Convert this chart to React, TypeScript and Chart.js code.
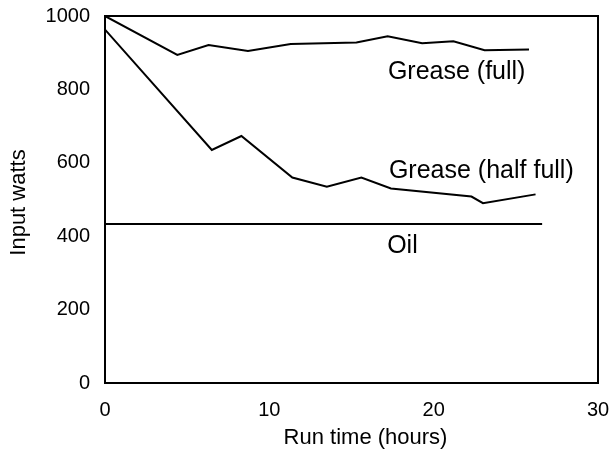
import React, { useEffect, useRef } from "react";
import { Chart, registerables } from "chart.js";

Chart.register(...registerables);

const fullHours = [0, 4.4, 6.3, 8.7, 11.3, 15.3, 17.2, 19.3, 21.2, 23.1, 25.8];
const fullWatts = [1000, 894, 921, 905, 924, 928, 945, 926, 931, 907, 909];
const halfHours = [0, 6.5, 8.3, 11.4, 13.5, 15.6, 17.4, 22.3, 23.0, 26.2];
const halfWatts = [963, 635, 673, 560, 535, 560, 530, 508, 490, 514];
const oilHours = [0, 26.6];
const oilWatts = [433, 433];

const seriesNames = ["Grease (full)", "Grease (half full)", "Oil"];
const labelHours = [21.4, 22.9, 18.1];
const labelWatts = [847, 578, 372];

const xTitle = "Run time (hours)";
const yTitle = "Input watts";

const FONT = "'Liberation Sans', Arial, Helvetica, sans-serif";

const toPoints = (xs: number[], ys: number[]) => xs.map((x, i) => ({ x, y: ys[i] }));

const boxPlugin = {
  id: "box",
  afterDatasetsDraw(chart: any) {
    const { ctx, chartArea } = chart;
    ctx.save();
    ctx.strokeStyle = "#000";
    ctx.lineWidth = 2;
    ctx.strokeRect(chartArea.left, chartArea.top, chartArea.right - chartArea.left, chartArea.bottom - chartArea.top);
    ctx.restore();
  },
};

const labelPlugin = {
  id: "seriesLabels",
  afterDatasetsDraw(chart: any) {
    const { ctx, scales, chartArea } = chart;
    ctx.save();
    ctx.fillStyle = "#000";
    ctx.font = `25px ${FONT}`;
    ctx.textAlign = "center";
    ctx.textBaseline = "middle";
    seriesNames.forEach((name, i) => {
      ctx.fillText(name, scales.x.getPixelForValue(labelHours[i]), scales.y.getPixelForValue(labelWatts[i]));
    });
    // axis titles
    ctx.font = `22px ${FONT}`;
    ctx.fillText(xTitle, (chartArea.left + chartArea.right) / 2 + 14, 438);
    ctx.translate(19, (chartArea.top + chartArea.bottom) / 2 + 3);
    ctx.rotate(-Math.PI / 2);
    ctx.fillText(yTitle, 0, 0);
    ctx.restore();
  },
};

const zeroPad = (s: any) => {
  s.paddingTop = 0;
  s.paddingBottom = 0;
  s.paddingLeft = 0;
  s.paddingRight = 0;
};

export default function App() {
  const ref = useRef<HTMLCanvasElement>(null);
  useEffect(() => {
    document.body.style.margin = "0";
    const lineStyle = {
      borderColor: "#000",
      borderWidth: 2,
      pointRadius: 0,
      fill: false,
      tension: 0,
    };
    const chart = new Chart(ref.current!, {
      type: "line",
      data: {
        datasets: [
          { label: seriesNames[0], data: toPoints(fullHours, fullWatts), ...lineStyle },
          { label: seriesNames[1], data: toPoints(halfHours, halfWatts), ...lineStyle },
          { label: seriesNames[2], data: toPoints(oilHours, oilWatts), ...lineStyle },
        ],
      },
      options: {
        animation: false,
        responsive: false,
        layout: { padding: { top: 16, right: 14, left: 0, bottom: 0 } },
        plugins: { legend: { display: false }, tooltip: { enabled: false } },
        scales: {
          x: {
            type: "linear",
            min: 0,
            max: 30,
            grid: { display: false, drawTicks: false },
            border: { display: false },
            ticks: { stepSize: 10, color: "#000", padding: 15, maxRotation: 0, font: { size: 20, family: FONT }, callback: (v: any) => String(v) },
            afterFit: (s: any) => { s.height = 72; zeroPad(s); },
          },
          y: {
            type: "linear",
            min: 0,
            max: 1000,
            grid: { display: false, drawTicks: false },
            border: { display: false },
            ticks: { stepSize: 200, color: "#000", padding: 15, font: { size: 20, family: FONT }, callback: (v: any) => String(v) },
            afterFit: (s: any) => { s.width = 105; zeroPad(s); },
          },
        },
      },
      plugins: [boxPlugin, labelPlugin],
    });
    return () => chart.destroy();
  }, []);
  return (
    <div style={{ width: 612, height: 455 }}>
      <canvas ref={ref} width={612} height={455} style={{ display: "block" }} />
    </div>
  );
}
